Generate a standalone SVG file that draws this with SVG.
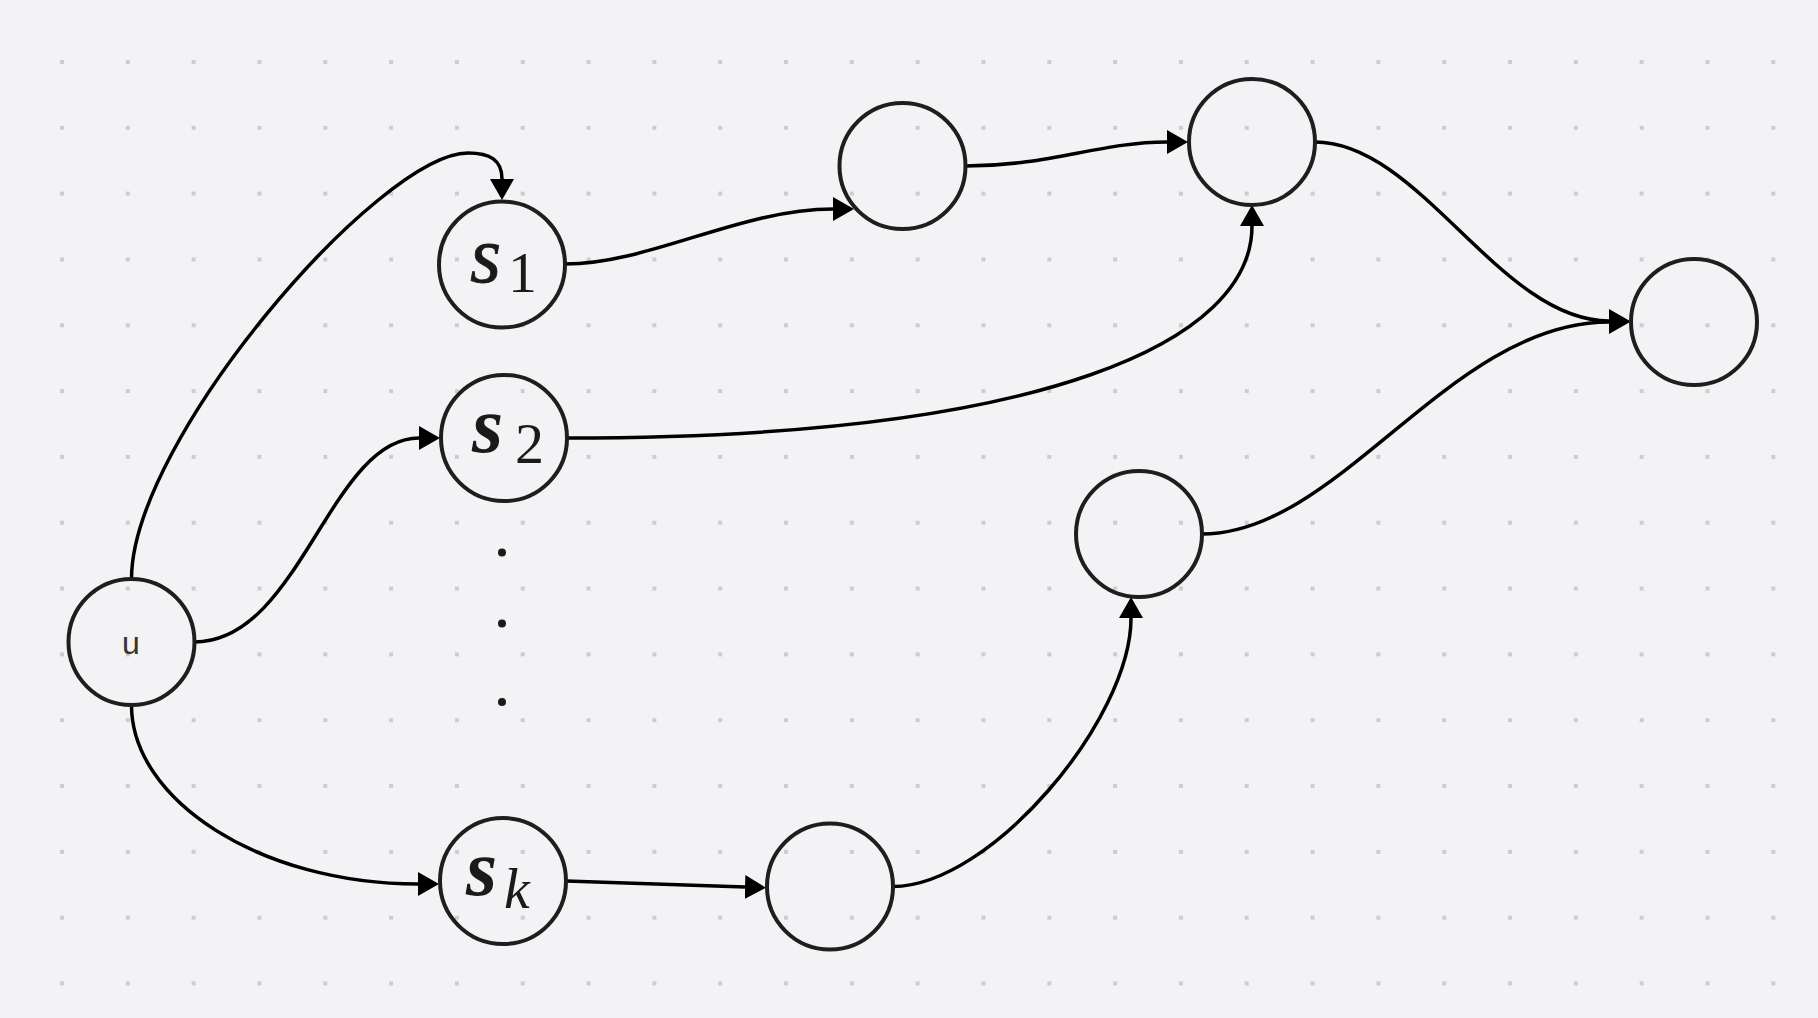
<svg xmlns="http://www.w3.org/2000/svg" width="1818" height="1018" viewBox="0 0 1818 1018">
  <defs>
    <pattern id="grid" patternUnits="userSpaceOnUse" x="60" y="60" width="65.82" height="65.82">
      <rect x="0" y="0" width="4" height="4" fill="#cdcdcf"/>
    </pattern>
    <marker id="arr" markerUnits="userSpaceOnUse" viewBox="0 0 22 24" markerWidth="22" markerHeight="24" refX="0" refY="12" orient="auto">
      <path d="M0,0 L21,12 L0,24 Z" fill="#000"/>
    </marker>
  </defs>
  <style>
    .node { fill: none; stroke: #1e1e1e; stroke-width: 4; }
    .edge { fill: none; stroke: #000; stroke-width: 3.5; marker-end: url(#arr); }
    .math { font-family: "Liberation Serif", "DejaVu Serif", serif; font-style: italic; fill: #1a1a1a; }
    .sub { font-family: "Liberation Serif", "DejaVu Serif", serif; fill: #1a1a1a; font-size: 58px; }
    .lbl { font-family: "Liberation Sans", Arial, sans-serif; font-size: 32px; fill: #333; }
  </style>
  <rect width="1818" height="1018" fill="#f3f3f5"/>
  <rect x="56" y="56" width="1724" height="934" fill="url(#grid)"/>

  <g id="connectors">
    <path class="edge" d="M131.5 579 C 131.5 440 380 153 468 153 C 490 153 502 160 502 179"/>
    <path class="edge" d="M194.5 642 C 300 642 330 438 419 438"/>
    <path class="edge" d="M131.5 705 C 131.5 800 260 884 418 884"/>
    <path class="edge" d="M565 264 C 650 264 740 209 833 209"/>
    <path class="edge" d="M965.5 166 C 1050 166 1100 142 1167 142"/>
    <path class="edge" d="M567 438 C 1050 438 1252 340 1252 226"/>
    <path class="edge" d="M1315 142 C 1420 142 1500 321 1609 321"/>
    <path class="edge" d="M1202 534 C 1340 534 1450 322 1609 322"/>
    <path class="edge" d="M566 881 L 745 887"/>
    <path class="edge" d="M893 886.5 C 990 886.5 1131 720 1131 618"/>
  </g>

  <g id="node-u">
    <circle class="node" cx="131.5" cy="642" r="63"/>
    <text class="lbl" x="131" y="654" text-anchor="middle">u</text>
  </g>
  <g id="node-s1">
    <circle class="node" cx="502" cy="264.5" r="63"/>
    <text x="470" y="282"><tspan class="math" font-size="80" stroke="#1a1a1a" stroke-width="0.8">s</tspan></text>
    <text class="sub" x="508" y="292">1</text>
  </g>
  <g id="node-s2">
    <circle class="node" cx="504" cy="438" r="63"/>
    <text x="472" y="452"><tspan class="math" font-size="80" font-weight="bold">s</tspan></text>
    <text class="sub" x="515" y="463">2</text>
  </g>
  <g id="dots">
    <circle cx="502" cy="552.5" r="4" fill="#1a1a1a"/>
    <circle cx="502" cy="623.5" r="4" fill="#1a1a1a"/>
    <circle cx="502" cy="702" r="4" fill="#1a1a1a"/>
  </g>
  <g id="node-sk">
    <circle class="node" cx="503" cy="881" r="63"/>
    <text x="466" y="895"><tspan class="math" font-size="80" font-weight="bold">s</tspan></text>
    <text class="sub" x="504" y="908" font-style="italic">k</text>
  </g>
  <g id="node-a">
    <circle class="node" cx="902.5" cy="166" r="63"/>
  </g>
  <g id="node-b">
    <circle class="node" cx="1252" cy="142" r="63"/>
  </g>
  <g id="node-r">
    <circle class="node" cx="1694" cy="322" r="63"/>
  </g>
  <g id="node-m">
    <circle class="node" cx="1139" cy="534" r="63"/>
  </g>
  <g id="node-bm">
    <circle class="node" cx="830" cy="886.5" r="63"/>
  </g>
</svg>
